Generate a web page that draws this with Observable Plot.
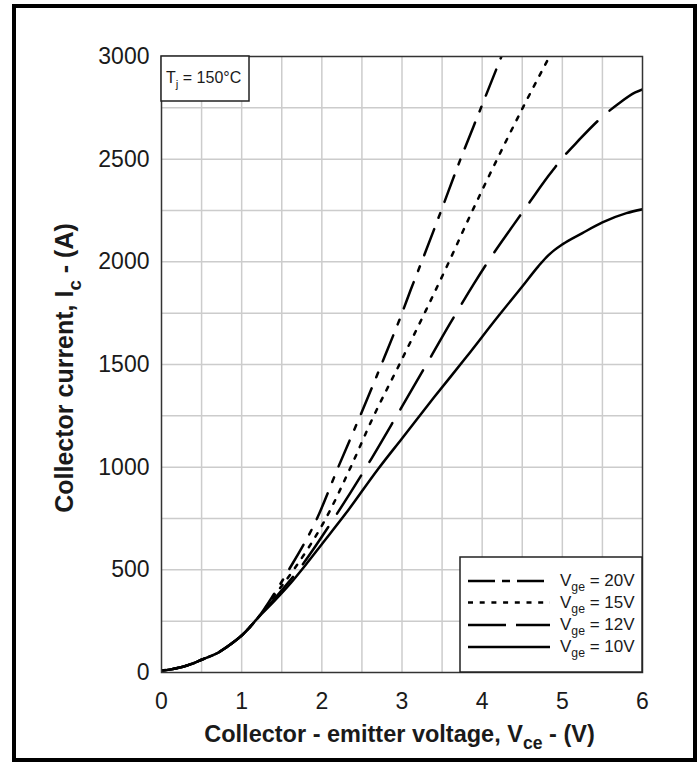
<!DOCTYPE html>
<html><head><meta charset="utf-8">
<script src="https://cdn.jsdelivr.net/npm/d3@7"></script>
<script src="https://cdn.jsdelivr.net/npm/@observablehq/plot@0.6"></script>
<style>
body{margin:0;background:#fff;}
#wrap{position:relative;width:700px;height:767px;overflow:hidden;}
#frame{position:absolute;left:12px;top:4px;width:685px;height:758px;border:4px solid #000;box-sizing:border-box;pointer-events:none;}
svg{display:block;}
</style></head><body><div id="wrap"><div id="frame"></div></div>
<script>
// ---- axis ticks / grid ----
const xTicks = [0, 1, 2, 3, 4, 5, 6];
const yTicks = [0, 500, 1000, 1500, 2000, 2500, 3000];
const gridXValues = [0.5, 1, 1.5, 2, 2.5, 3, 3.5, 4, 4.5, 5, 5.5];
const gridYValues = [250, 500, 750, 1000, 1250, 1500, 1750, 2000, 2250, 2500, 2750];

// ---- shared low-voltage part (all curves coincide) ----
const lowV = [0, 0.1, 0.2, 0.3, 0.4, 0.5, 0.6, 0.7, 0.8, 0.9, 1.0, 1.1, 1.2];
const lowI = [10, 14, 22, 32, 45, 62, 78, 95, 120, 148, 180, 220, 265];

// ---- series tails (Vce in V, Ic in A) ----
const v20V = [1.4, 1.59, 1.94, 2.21, 2.5, 2.78, 3.0, 3.11, 3.23, 3.48, 3.71, 3.98, 4.24];
const v20I = [380, 501, 750, 1005, 1270, 1535, 1750, 1865, 1985, 2240, 2480, 2745, 3000];

const v15V = [1.4, 1.65, 2.05, 2.36, 2.63, 2.98, 3.3, 3.58, 3.85, 4.1, 4.5, 4.84];
const v15I = [370, 501, 750, 1000, 1235, 1510, 1765, 1995, 2225, 2430, 2745, 3000];

const v12V = [1.4, 1.71, 2.15, 2.57, 2.94, 3.29, 3.6, 3.9, 4.08, 4.4, 4.6, 4.83, 5.0, 5.2, 5.48, 5.7, 5.91, 6.0];
const v12I = [355, 500, 750, 1010, 1255, 1490, 1700, 1895, 2005, 2185, 2295, 2420, 2505, 2590, 2700, 2770, 2825, 2840];

const v10V = [1.4, 1.6, 1.8, 2.0, 2.3, 2.7, 3.0, 3.4, 3.8, 4.2, 4.5, 4.7, 4.8, 4.9, 5.0, 5.25, 5.5, 5.8, 6.0];
const v10I = [345, 430, 525, 625, 775, 990, 1140, 1340, 1535, 1735, 1880, 1978, 2022, 2057, 2085, 2140, 2192, 2237, 2256];

const seriesNames = ["20V", "15V", "12V", "10V"];
const plotDash = ["28,12,5,12", "4,8.5", "45,16", null];
const legendDash = ["27,7,8,7", "5,6.7", "38,10", null];

function rows(vs, is, name) {
  return lowV.map((v, k) => ({v, i: lowI[k], s: name}))
    .concat(vs.map((v, k) => ({v, i: is[k], s: name})));
}
const data = [rows(v20V, v20I, "20V"), rows(v15V, v15I, "15V"), rows(v12V, v12I, "12V"), rows(v10V, v10I, "10V")];

const FONT = '"Liberation Sans", Arial, Helvetica, sans-serif';
const TXT = "#1a1a1a";

const plot = Plot.plot({
  width: 700, height: 767,
  marginLeft: 161, marginRight: 58, marginTop: 56, marginBottom: 95,
  x: {domain: [0, 6]},
  y: {domain: [0, 3000]},
  style: {fontFamily: FONT, background: "#fff", color: TXT},
  marks: [
    Plot.gridX(gridXValues, {stroke: "#cccccc", strokeOpacity: 1, strokeWidth: 1.5}),
    Plot.gridY(gridYValues, {stroke: "#cccccc", strokeOpacity: 1, strokeWidth: 1.5}),
    ...data.map((d, k) => Plot.line(d, {
      x: "v", y: "i", stroke: "#000", strokeWidth: 2.5, curve: "monotone-x",
      strokeDasharray: plotDash[k] || undefined, clip: true
    })),
    Plot.frame({stroke: "#333", strokeWidth: 1.5}),
    Plot.axisX(xTicks, {tickSize: 0, tickPadding: 20, fontSize: 23, label: null, tickFormat: d3.format("d"), fill: TXT}),
    Plot.axisY(yTicks, {tickSize: 0, tickPadding: 12, fontSize: 23, label: null, tickFormat: d3.format("d"), fill: TXT})
  ]
});

document.getElementById("wrap").insertBefore(plot, document.getElementById("frame"));

const svg = d3.select(plot);
const xs = plot.scale("x"), ys = plot.scale("y");
const X0 = xs.apply(0), X6 = xs.apply(6), Y0 = ys.apply(0), Y3 = ys.apply(3000);

function rich(sel, parts, size, subRatio = 0.72, shift = 0.3) {
  let prevSub = false;
  sel.attr("font-size", size);
  parts.forEach(([t, sub]) => {
    const ts = sel.append("tspan").text(t);
    if (sub) {
      ts.attr("font-size", size * subRatio).attr("dy", size * shift);
    } else {
      ts.attr("font-size", size);
      if (prevSub) ts.attr("dy", -size * shift);
    }
    prevSub = sub;
  });
  return sel;
}

const ann = svg.append("g").attr("font-family", FONT).attr("fill", TXT);

// Tj box
ann.append("rect").attr("x", X0).attr("y", Y3).attr("width", 88).attr("height", 45)
  .attr("fill", "#fff").attr("stroke", "#222").attr("stroke-width", 1.5);
rich(ann.append("text").attr("text-anchor", "start").attr("x", X0 + 5).attr("y", Y3 + 27),
  [["T", false], ["j", true], [" = 150°C", false]], 16);

// Legend
const lg = ann.append("g");
const LX = X6 - 182, LY = Y0 - 115;
lg.append("rect").attr("x", LX).attr("y", LY).attr("width", 182).attr("height", 115)
  .attr("fill", "#fff").attr("stroke", "#222").attr("stroke-width", 1.5);
const rowY = [24, 45.5, 68, 90];
seriesNames.forEach((name, k) => {
  const y = LY + rowY[k];
  lg.append("line").attr("x1", LX + 8).attr("x2", LX + 90).attr("y1", y).attr("y2", y)
    .attr("stroke", "#000").attr("stroke-width", 2.5)
    .attr("stroke-dasharray", legendDash[k]);
  rich(lg.append("text").attr("text-anchor", "start").attr("x", LX + 100).attr("y", y + 5),
    [["V", false], ["ge", true], [" = " + name, false]], 17);
});

// Axis titles
rich(ann.append("text").attr("x", (X0 + X6) / 2 - 2).attr("y", 742).attr("text-anchor", "middle")
  .attr("font-weight", "bold"),
  [["Collector - emitter voltage, V", false], ["ce", true], [" - (V)", false]], 23.5, 0.75, 0.3);

rich(ann.append("text").attr("transform", `translate(73,${(Y0 + Y3) / 2 + 4}) rotate(-90)`)
  .attr("text-anchor", "middle").attr("font-weight", "bold"),
  [["Collector current, I", false], ["c", true], [" - (A)", false]], 25, 0.75, 0.3);
</script>
</body></html>
